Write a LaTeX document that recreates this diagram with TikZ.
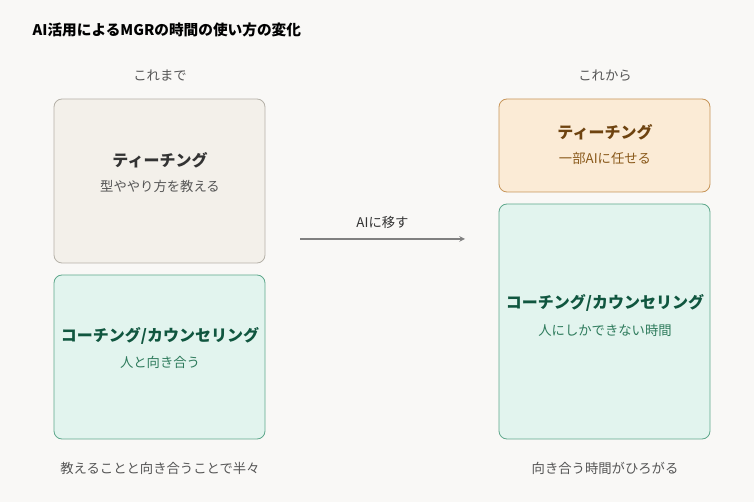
\documentclass[tikz,border=0pt]{standalone}
\usepackage{fontspec}
\setmainfont{Noto Sans CJK JP}
\usetikzlibrary{positioning}
\definecolor{bgc}{HTML}{F9F8F6}
\definecolor{greyfill}{HTML}{F3F0EA}
\definecolor{greyline}{HTML}{B5B1A8}
\definecolor{greenfill}{HTML}{E2F4EE}
\definecolor{greenline}{HTML}{5FA88C}
\definecolor{greenhead}{HTML}{10563F}
\definecolor{greentext}{HTML}{2E7B5C}
\definecolor{orangefill}{HTML}{FBEBD6}
\definecolor{orangeline}{HTML}{C79559}
\definecolor{orangehead}{HTML}{6E4310}
\definecolor{orangetext}{HTML}{8A5A1C}
\definecolor{darktext}{HTML}{333333}
\definecolor{greytext}{HTML}{555555}
\tikzset{
  box/.style={draw, rounded corners=6pt, line width=0.6pt},
  head/.style={font=\bfseries\fontsize{12}{14}\selectfont},
  sub/.style={font=\fontsize{10}{12}\selectfont},
  caption/.style={font=\fontsize{10}{12}\selectfont, text=greytext}
}
\begin{document}
\begin{tikzpicture}[x=0.75pt,y=-0.75pt]
  \fill[bgc] (0,0) rectangle (754,502);
  \useasboundingbox (0,0) rectangle (754,502);
  \node[anchor=west, font=\bfseries\fontsize{11}{13}\selectfont, text=black] (title) at (28,30) {AI活用によるMGRの時間の使い方の変化};
  \node[caption] (before) at (160,76) {これまで};
  \node[caption] (after) at (605,76) {これから};
  % before
  \draw[box, fill=greyfill, draw=greyline] (54,99) rectangle (265,263);
  \node[head, text=darktext] (teachA) at (160,160) {ティーチング};
  \node[sub, text=greytext] (teachAsub) at (160,186) {型ややり方を教える};
  \draw[box, fill=greenfill, draw=greenline] (54,275) rectangle (265,439);
  \node[head, text=greenhead] (coachA) at (160,336) {コーチング/カウンセリング};
  \node[sub, text=greentext] (coachAsub) at (160,362) {人と向き合う};
  \node[caption] (capA) at (160,468) {教えることと向き合うことで半々};
  % after
  \draw[box, fill=orangefill, draw=orangeline] (499,99) rectangle (710,192);
  \node[head, text=orangehead] (teachB) at (605,132) {ティーチング};
  \node[sub, text=orangetext] (teachBsub) at (605,158) {一部AIに任せる};
  \draw[box, fill=greenfill, draw=greenline] (499,204) rectangle (710,439);
  \node[head, text=greenhead] (coachB) at (605,303) {コーチング/カウンセリング};
  \node[sub, text=greentext] (coachBsub) at (605,330) {人にしかできない時間};
  \node[caption] (capB) at (605,468) {向き合う時間がひろがる};
  % arrow
  \coordinate (from) at (300,239);
  \coordinate (to) at (465,239);
  \draw[-stealth, line width=0.9pt, draw=gray] (from) -- (to) node[midway, above=4pt, caption, text=darktext] {AIに移す};
\end{tikzpicture}
\end{document}
